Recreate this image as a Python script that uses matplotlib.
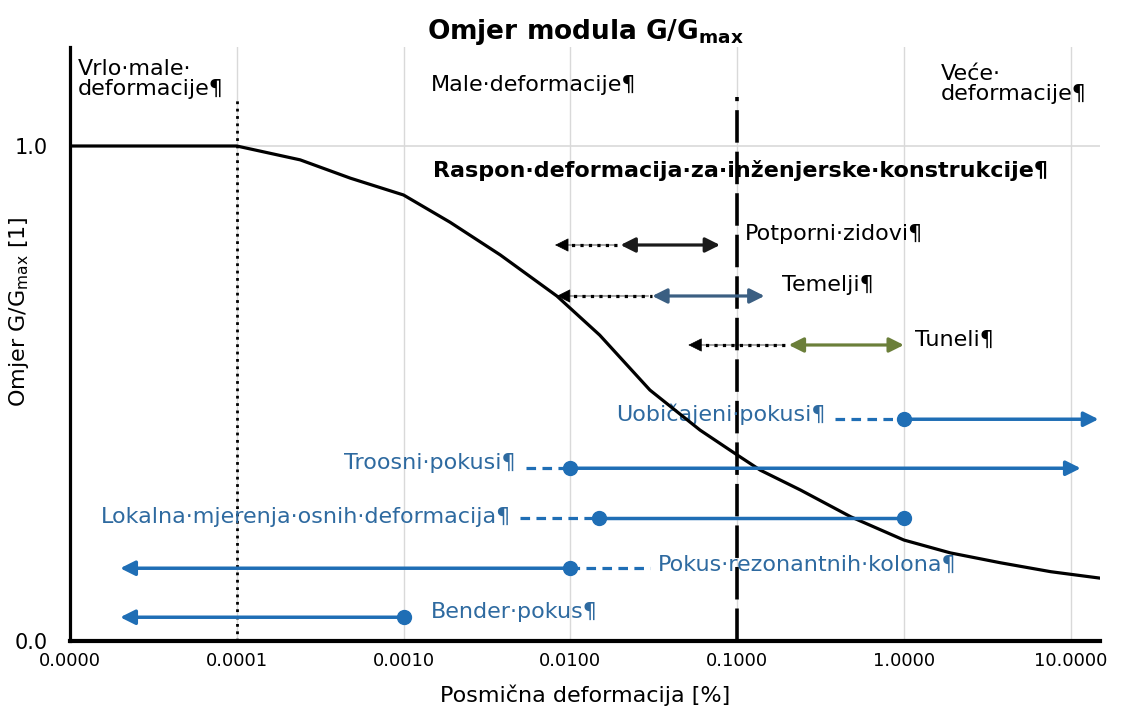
import matplotlib
matplotlib.use("Agg")
import matplotlib.pyplot as plt

plt.rcParams['font.family'] = ['DejaVu Sans']

# krivulja degradacije modula
strain = [1e-5, 1e-4, 2.4e-4, 4.8e-4, 1e-3, 1.9e-3, 3.8e-3, 8.3e-3, 0.015, 0.030,
          0.060, 0.10, 0.138, 0.24, 0.48, 1.0, 1.9, 3.8, 7.6, 15]
ratio = [1.0, 1.0, 0.972, 0.935, 0.901, 0.846, 0.780, 0.697, 0.618, 0.507,
         0.426, 0.376, 0.345, 0.305, 0.251, 0.204, 0.178, 0.158, 0.140, 0.127]

xticks = [1e-5, 1e-4, 1e-3, 1e-2, 1e-1, 1, 10]
xlabels = ['0.0000', '0.0001', '0.0010', '0.0100', '0.1000', '1.0000', '10.0000']

# inzenjerske konstrukcije
structures = ['Potporni·zidovi¶', 'Temelji¶', 'Tuneli¶']
struct_y = [0.800, 0.697, 0.598]
struct_dot_from = [0.0081, 0.0083, 0.051]
struct_from = [0.020, 0.031, 0.204]
struct_to = [0.079, 0.146, 1.0]
struct_col = ['#1a1a1a', '#3b5f82', '#6b7f3a']

# laboratorijski pokusi
tests = ['Uobičajeni·pokusi¶', 'Troosni·pokusi¶', 'Lokalna·mjerenja·osnih·deformacija¶',
         'Pokus·rezonantnih·kolona¶', 'Bender·pokus¶']
test_y = [0.448, 0.349, 0.248, 0.147, 0.048]

blue = '#1f6eb5'
tblue = '#2e6aa0'

fig = plt.figure(figsize=(11.21, 7.25), dpi=100)
ax = fig.add_axes([70/1121, 84/725, 1030/1121, 594/725])
ax.set_xscale('log')
ax.set_xlim(1e-5, 15)
ax.set_ylim(0, 1.2)

for x in xticks[1:]:
    ax.axvline(x, color='#d9d9d9', lw=1, zorder=0)
ax.axhline(1.0, color='#d9d9d9', lw=1.2, zorder=0)

ax.plot(strain, ratio, color='black', lw=2.3, zorder=4)

# granice podrucja
ax.plot([1e-4, 1e-4], [0, 1.093], color='black', ls=':', lw=2, zorder=3)
ax.plot([0.1, 0.1], [0, 1.099], color='black', ls=(0, (9, 2.5)), lw=2.6, zorder=3)

def arrow(x0, x1, y, col, style='-|>', ls='-', lw=2.3):
    ax.annotate('', xy=(x1, y), xytext=(x0, y),
                arrowprops=dict(arrowstyle=style, color=col, lw=lw, ls=ls,
                                mutation_scale=22, shrinkA=0, shrinkB=0), zorder=5)

for name, y, xd, x0, x1, c in zip(structures, struct_y, struct_dot_from,
                                 struct_from, struct_to, struct_col):
    ax.plot([xd * 1.12, x0], [y, y], color='black', ls=':', lw=2.3, zorder=5)
    arrow(x0 * 0.95, xd, y, 'black', lw=0.5)
    arrow(x0, x1, y, c, style='<|-|>', lw=2.3)

ax.text(0.112, 0.822, structures[0], fontsize=16, va='center', ha='left')
ax.text(0.186, 0.719, structures[1], fontsize=16, va='center', ha='left')
ax.text(1.17, 0.608, structures[2], fontsize=16, va='center', ha='left')

# Uobicajeni pokusi
ax.plot([0.388, 1.0], [test_y[0]] * 2, color=blue, ls=(0, (3, 2)), lw=2.3, zorder=5)
arrow(1.0, 14.7, test_y[0], blue, lw=2.5)
ax.plot([1.0], [test_y[0]], 'o', color=blue, ms=10, zorder=6)
ax.text(0.338, test_y[0] + 0.01, tests[0], fontsize=16, color=tblue, ha='right', va='center')

# Troosni pokusi
ax.plot([0.0054, 0.01], [test_y[1]] * 2, color=blue, ls=(0, (3, 2)), lw=2.3, zorder=5)
arrow(0.01, 11.5, test_y[1], blue, lw=2.5)
ax.plot([0.01], [test_y[1]], 'o', color=blue, ms=10, zorder=6)
ax.text(0.0047, test_y[1] + 0.01, tests[1], fontsize=16, color=tblue, ha='right', va='center')

# Lokalna mjerenja
ax.plot([0.0050, 0.0148], [test_y[2]] * 2, color=blue, ls=(0, (3, 2)), lw=2.3, zorder=5)
ax.plot([0.0148, 1.0], [test_y[2]] * 2, 'o-', color=blue, ms=10, lw=2.5, zorder=6)
ax.text(0.0044, test_y[2] + 0.002, tests[2], fontsize=16, color=tblue, ha='right', va='center')

# Pokus rezonantnih kolona
arrow(0.01, 2e-5, test_y[3], blue, lw=2.5)
ax.plot([0.01, 0.030], [test_y[3]] * 2, color=blue, ls=(0, (3, 2)), lw=2.3, zorder=5)
ax.plot([0.01], [test_y[3]], 'o', color=blue, ms=10, zorder=6)
ax.text(0.0337, test_y[3] + 0.006, tests[3], fontsize=16, color=tblue, ha='left', va='center')

# Bender pokus
arrow(0.001, 2e-5, test_y[4], blue, lw=2.5)
ax.plot([0.001], [test_y[4]], 'o', color=blue, ms=10, zorder=6)
ax.text(0.00145, test_y[4] + 0.01, tests[4], fontsize=16, color=tblue, ha='left', va='center')

# nazivi podrucja
ax.text(1.12e-5, 1.175, 'Vrlo·male·\ndeformacije¶', fontsize=16, va='top', ha='left',
        linespacing=1.0)
ax.text(0.00145, 1.123, 'Male·deformacije¶', fontsize=16, va='center', ha='left')
ax.text(1.66, 1.165, 'Veće·\ndeformacije¶', fontsize=16, va='top', ha='left', linespacing=1.0)
ax.text(0.00150, 0.951, 'Raspon·deformacija·za·inženjerske·konstrukcije¶', fontsize=16,
        fontweight='bold', va='center', ha='left')

ax.set_xticks(xticks)
ax.set_xticklabels(xlabels, fontsize=13)
ax.xaxis.set_minor_locator(matplotlib.ticker.NullLocator())
ax.set_yticks([0, 1.0])
ax.set_yticklabels(['0.0', '1.0'], fontsize=15)
ax.tick_params(axis='y', length=0, pad=16)
ax.tick_params(axis='x', length=0, pad=8)

for s in ['top', 'right']:
    ax.spines[s].set_visible(False)
ax.spines['left'].set_linewidth(2.3)
ax.spines['bottom'].set_linewidth(3)

ax.set_xlabel('Posmična deformacija [%]', fontsize=16, labelpad=10)
ax.set_ylabel(r'Omjer G/G$_\mathregular{max}$ [1]', fontsize=16)
ax.yaxis.set_label_coords(-0.038, 0.555)
ax.set_title(r'Omjer modula G/G$_\mathbf{max}$', fontsize=19, fontweight='bold', pad=4)

fig.savefig('out.png', dpi=100)
